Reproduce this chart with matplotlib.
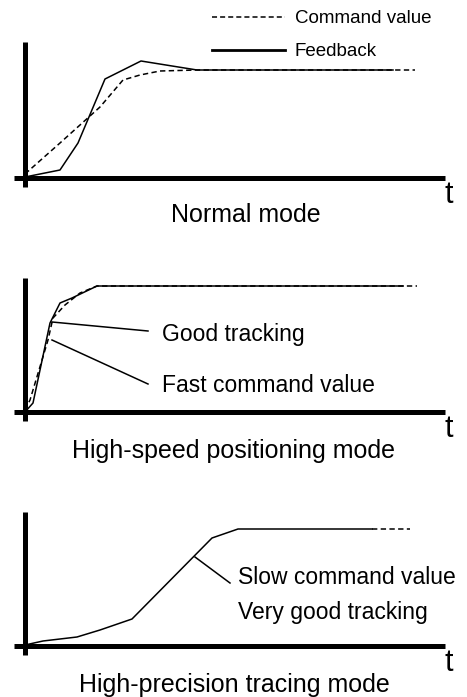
import matplotlib
matplotlib.use("Agg")
import matplotlib.pyplot as plt
from matplotlib.lines import Line2D

plt.rcParams["font.family"] = ["Liberation Sans", "DejaVu Sans"]

# --- datos (t, valor) ---
# Modo normal
t_cmd_normal = [0.0, 0.35, 0.75, 0.98, 1.15, 1.35, 1.72, 3.90]
y_cmd_normal = [0.04, 0.35, 0.71, 0.98, 1.03, 1.07, 1.08, 1.08]
t_fb_normal = [0.0, 0.35, 0.53, 0.80, 1.16, 1.72, 3.68]
y_fb_normal = [0.01, 0.08, 0.35, 0.99, 1.17, 1.08, 1.08]

# Modo posicionamiento rapido
t_cmd_fast = [0.0, 0.05, 0.23, 0.28, 0.40, 0.55, 0.72, 3.92]
y_cmd_fast = [0.02, 0.12, 0.72, 0.94, 1.07, 1.19, 1.26, 1.26]
t_fb_fast = [0.0, 0.08, 0.25, 0.35, 0.47, 0.72, 3.78]
y_fb_fast = [0.0, 0.09, 0.89, 1.09, 1.14, 1.26, 1.26]

# Modo de alta precision
t_fb_prec = [0.0, 0.18, 0.52, 0.75, 1.07, 1.87, 2.13, 3.47]
y_fb_prec = [0.01, 0.05, 0.09, 0.16, 0.27, 1.08, 1.17, 1.17]
t_tail_prec = [3.47, 3.85]
y_tail_prec = [1.17, 1.17]

titles = ["Normal mode", "High-speed positioning mode", "High-precision tracing mode"]
title_pos = [(2.21, -0.437), (2.085, -0.463), (2.09, -0.457)]
y_axis_top = [1.36, 1.34, 1.34]

# origen de cada panel en pixeles (x, y desde arriba)
W, H = 467, 697
origins = [(25, 178), (25, 412), (25, 646)]

fig = plt.figure(figsize=(W / 100, H / 100), dpi=100)
axes = []
for ox, oy in origins:
    left = (ox - 11) / W
    bottom = (H - (oy + 20)) / H
    ax = fig.add_axes([left, bottom, 436 / W, 165 / H])
    ax.set_xlim(-0.11, 4.25)
    ax.set_ylim(-0.2, 1.45)
    axes.append(ax)

dash = (0, (3.5, 2.2))
lw = 1.1

for i, ax in enumerate(axes):
    ax.set_xticks([])
    ax.set_yticks([])
    ax.spines["top"].set_visible(False)
    ax.spines["right"].set_visible(False)
    for s in ("left", "bottom"):
        ax.spines[s].set_position(("data", 0))
        ax.spines[s].set_linewidth(3.6)
        ax.spines[s].set_capstyle("butt")
    ax.spines["left"].set_bounds(-0.09, y_axis_top[i])
    ax.spines["bottom"].set_bounds(-0.11, 4.2)
    ax.patch.set_visible(False)
    ax.text(4.19, -0.25, "t", fontsize=22, ha="left", va="baseline")
    ax.text(title_pos[i][0], title_pos[i][1], titles[i], fontsize=18,
            ha="center", va="baseline")

# Panel 1
ax = axes[0]
ax.plot(t_cmd_normal, y_cmd_normal, color="black", lw=lw, linestyle=dash)
ax.plot(t_fb_normal, y_fb_normal, color="black", lw=lw)

handles = [Line2D([], [], color="black", lw=1.1, linestyle=(0, (3.3, 2.0))),
           Line2D([], [], color="black", lw=2.0)]
fig.legend(handles, ["Command value", "Feedback"], loc="upper left",
           bbox_to_anchor=(211.5 / W, 1 - 10 / H), frameon=False, fontsize=13.5,
           handlelength=3.9, handletextpad=0.53, labelspacing=0.85,
           borderpad=0, borderaxespad=0)

# Panel 2
ax = axes[1]
ax.plot(t_cmd_fast, y_cmd_fast, color="black", lw=lw, linestyle=dash)
ax.plot(t_fb_fast, y_fb_fast, color="black", lw=lw)
ax.plot([0.27, 1.23], [0.90, 0.81], color="black", lw=lw)
ax.plot([0.27, 1.23], [0.72, 0.28], color="black", lw=lw)
ax.text(1.37, 0.77, "Good tracking", fontsize=16.5, ha="left", va="center")
ax.text(1.37, 0.27, "Fast command value", fontsize=16.5, ha="left", va="center")

# Panel 3
ax = axes[2]
ax.plot(t_fb_prec, y_fb_prec, color="black", lw=lw)
ax.plot(t_tail_prec, y_tail_prec, color="black", lw=lw, linestyle=dash)
ax.plot([1.70, 2.05], [0.89, 0.63], color="black", lw=lw)
ax.text(2.13, 0.69, "Slow command value", fontsize=16.5, ha="left", va="center")
ax.text(2.13, 0.33, "Very good tracking", fontsize=16.5, ha="left", va="center")

fig.savefig("out.png", dpi=100)
